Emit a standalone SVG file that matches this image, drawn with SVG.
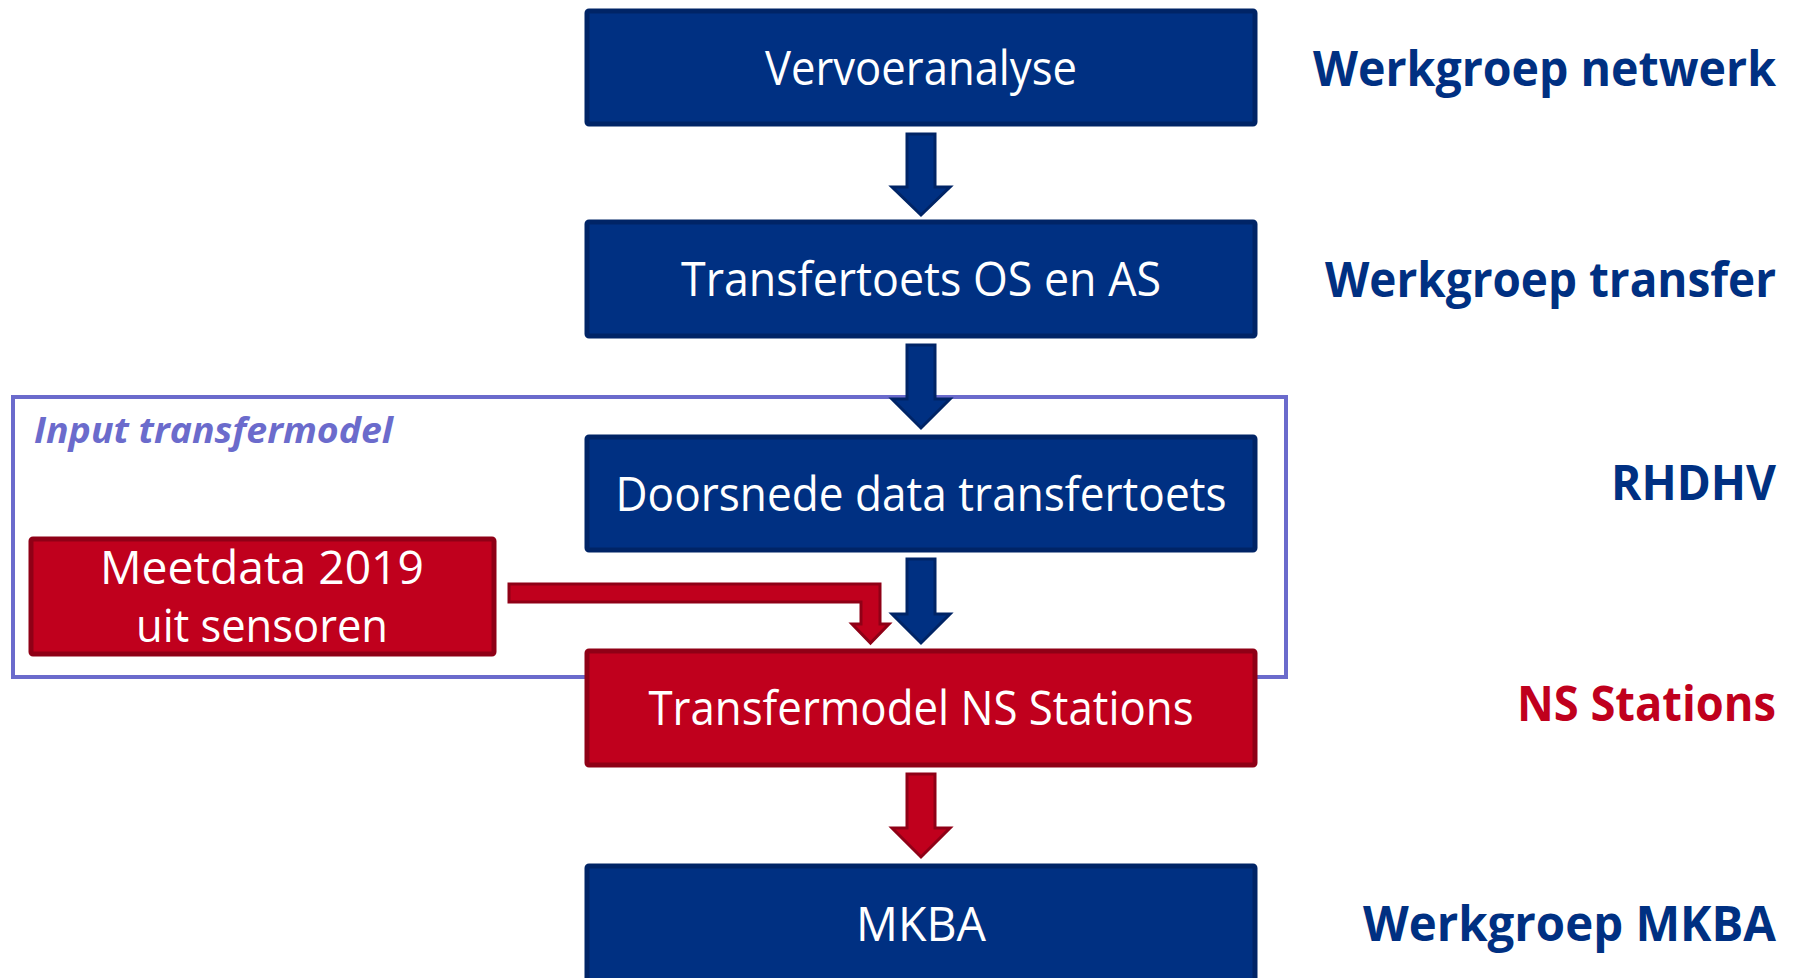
<svg xmlns="http://www.w3.org/2000/svg" width="1795" height="978" viewBox="0 0 1795 978">
<style>
.bb{fill:#003082;stroke:#002466;stroke-width:5}
.rb{fill:#c0001d;stroke:#8f0016;stroke-width:5}
.ba{fill:#003082;stroke:#002466;stroke-width:3;stroke-linejoin:miter}
.ra{fill:#c0001d;stroke:#8f0016;stroke-width:3;stroke-linejoin:miter}
.bt{font-family:"Open Sans","Liberation Sans",sans-serif;font-weight:400;font-size:48px;fill:#ffffff;text-anchor:middle}
.lab{font-family:"Open Sans","Liberation Sans",sans-serif;font-weight:700;font-size:48px;text-anchor:end}
</style>
<rect width="1795" height="978" fill="#ffffff"/>
<g id="group-input">
<rect x="13" y="397" width="1273" height="280" fill="none" stroke="#6b6bcc" stroke-width="4"/>
<text x="34" y="443" font-family="'Open Sans','Liberation Sans',sans-serif" font-weight="700" font-style="italic" font-size="35" fill="#6b6bcc" textLength="359" lengthAdjust="spacingAndGlyphs">Input transfermodel</text>
</g>
<g id="node-vervoeranalyse">
<rect class="bb" x="587" y="11" width="668" height="113" rx="2"/>
<text class="bt" x="921" y="85" textLength="312" lengthAdjust="spacingAndGlyphs">Vervoeranalyse</text>
</g>
<g id="node-transfertoets">
<rect class="bb" x="587" y="222" width="668" height="114" rx="2"/>
<text class="bt" x="921" y="296" textLength="480" lengthAdjust="spacingAndGlyphs">Transfertoets OS en AS</text>
</g>
<g id="node-doorsnede">
<rect class="bb" x="587" y="437" width="668" height="113" rx="2"/>
<text class="bt" x="921" y="511" textLength="611" lengthAdjust="spacingAndGlyphs">Doorsnede data transfertoets</text>
</g>
<g id="node-meetdata">
<rect class="rb" x="31" y="539" width="463" height="115" rx="2"/>
<text class="bt" x="262" y="584" font-size="45" style="font-size:45px" textLength="324" lengthAdjust="spacingAndGlyphs">Meetdata 2019</text>
<text class="bt" x="262" y="642" font-size="45" style="font-size:45px" textLength="252" lengthAdjust="spacingAndGlyphs">uit sensoren</text>
</g>
<g id="node-transfermodel">
<rect class="rb" x="587" y="651" width="668" height="114" rx="2"/>
<text class="bt" x="921" y="725" textLength="545" lengthAdjust="spacingAndGlyphs">Transfermodel NS Stations</text>
</g>
<g id="node-mkba">
<rect class="bb" x="587" y="866" width="668" height="130" rx="2"/>
<text class="bt" x="921" y="941" textLength="130" lengthAdjust="spacingAndGlyphs">MKBA</text>
</g>
<g id="connectors">
<path class="ba" d="M907,134 H935 V187 H950 L921,215 L892,187 H907 Z"/>
<path class="ba" d="M907,345 H935 V399 H950 L921,428 L892,399 H907 Z"/>
<path class="ba" d="M907,559 H935 V614 H950 L921,643 L892,614 H907 Z"/>
<path class="ra" d="M907,774 H935 V828 H950 L921,857 L892,828 H907 Z"/>
<path class="ra" d="M509,584 H880 V624 H889 L870.5,643 L852,624 H861 V602 H509 Z"/>
</g>
<g id="labels">
<text class="lab" x="1776" y="86" fill="#003082" textLength="463" lengthAdjust="spacingAndGlyphs">Werkgroep netwerk</text>
<text class="lab" x="1776" y="297" fill="#003082" textLength="451" lengthAdjust="spacingAndGlyphs">Werkgroep transfer</text>
<text class="lab" x="1776" y="500" fill="#003082" textLength="165" lengthAdjust="spacingAndGlyphs">RHDHV</text>
<text class="lab" x="1776" y="721" fill="#c0001d" textLength="259" lengthAdjust="spacingAndGlyphs">NS Stations</text>
<text class="lab" x="1776" y="941" fill="#003082" textLength="413" lengthAdjust="spacingAndGlyphs">Werkgroep MKBA</text>
</g>
</svg>
